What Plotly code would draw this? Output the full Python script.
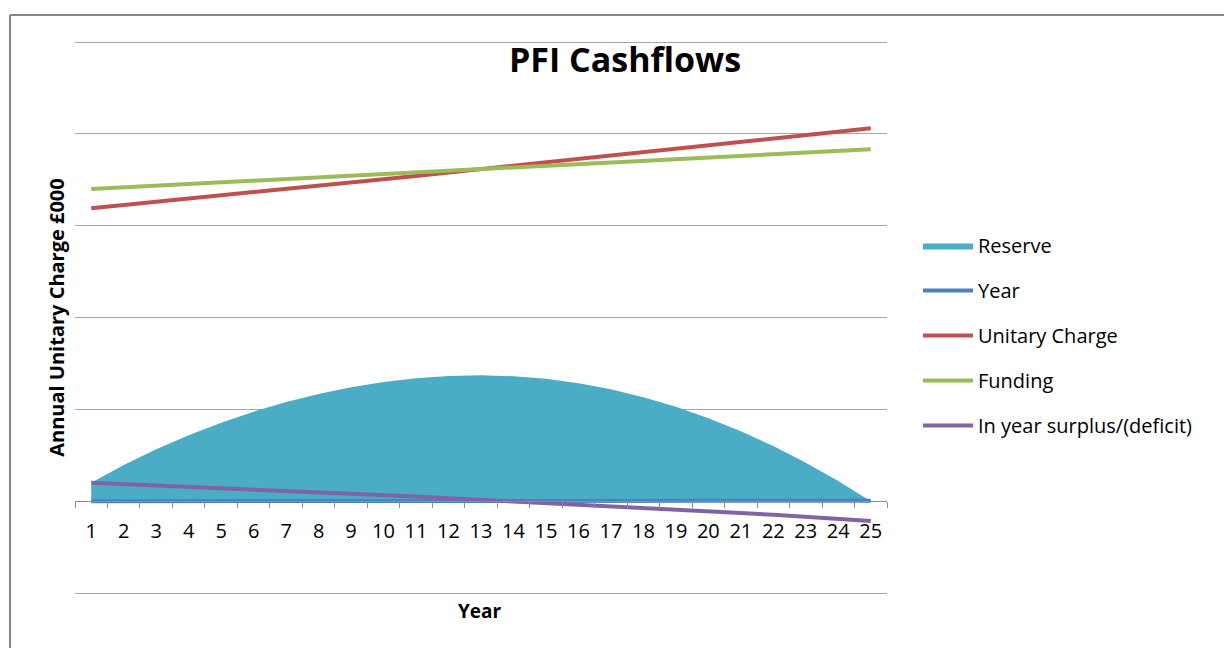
import plotly.graph_objects as go

years = list(range(1, 26))
reserve = [1000, 1975, 2820, 3585, 4270, 4875, 5400, 5840, 6205, 6490, 6690, 6810, 6850,
           6800, 6660, 6420, 6090, 5660, 5140, 4520, 3805, 3000, 2095, 1095, 0]
year_series = years
unitary_charge = [15950, 16120, 16295, 16470, 16645, 16820, 16995, 17170, 17350, 17530,
                  17710, 17895, 18080, 18265, 18450, 18635, 18820, 19005, 19190, 19375,
                  19560, 19745, 19930, 20115, 20300]
funding = [17000, 17090, 17180, 17270, 17360, 17450, 17540, 17630, 17720, 17810, 17900,
           17990, 18080, 18170, 18260, 18350, 18440, 18530, 18620, 18710, 18800, 18890,
           18980, 19070, 19160]
surplus = [1000, 930, 860, 790, 715, 640, 565, 490, 410, 330, 250, 165, 80, -5, -90,
           -180, -270, -360, -455, -550, -645, -745, -850, -960, -1080]

FONT = "Open Sans"
W, H = 1224, 648
# target pixel positions of the top (25000) and bottom (-5000) gridlines
GT, GB = 42, 593
YMIN, YMAX = -5000, 25000
# plot area is 2px larger on each side so that edge gridlines are drawn
L, R, T, B = 75, 887, GT - 2, GB + 2
PW, PH = R - L, B - T
upp = (YMAX - YMIN) / (GB - GT)          # data units per pixel
RMIN, RMAX = YMIN - 2 * upp, YMAX + 2 * upp


def px(x):
    return (x - L) / PW


def py(y):
    return (B - y) / PH


fig = go.Figure()
fig.add_trace(go.Scatter(x=years, y=reserve, name="Reserve", mode="lines",
                         fill="tozeroy", fillcolor="#4BACC6",
                         line=dict(color="#4BACC6", width=0), legendgroup="a"))
fig.add_trace(go.Scatter(x=years, y=year_series, name="Year", mode="lines",
                         line=dict(color="#4F81BD", width=4), legendgroup="b"))
fig.add_trace(go.Scatter(x=years, y=unitary_charge, name="Unitary Charge", mode="lines",
                         line=dict(color="#C0504D", width=4), legendgroup="c"))
fig.add_trace(go.Scatter(x=years, y=funding, name="Funding", mode="lines",
                         line=dict(color="#9BBB59", width=4), legendgroup="d"))
fig.add_trace(go.Scatter(x=years, y=surplus, name="In year surplus/(deficit)", mode="lines",
                         line=dict(color="#8064A2", width=4), legendgroup="e"))

fig.update_layout(
    width=W, height=H,
    margin=dict(l=L, r=W - R, t=T, b=H - B, autoexpand=False),
    paper_bgcolor="white", plot_bgcolor="white",
    font=dict(family=FONT, color="black", size=20),
    showlegend=True,
    legend=dict(x=px(918), y=py(226), xanchor="left", yanchor="top",
                traceorder="grouped", tracegroupgap=16,
                font=dict(family=FONT, size=20, color="black"),
                bgcolor="rgba(0,0,0,0)", itemwidth=50),
    xaxis=dict(type="category", range=[-0.5, 24.5], tickson="boundaries",
               ticks="outside", ticklen=6, ticklabelstandoff=12,
               tickcolor="#8C8C8C", showline=True, linecolor="#8C8C8C", linewidth=1,
               showgrid=False, zeroline=False, anchor="free",
               position=(0 - RMIN) / (RMAX - RMIN),
               tickfont=dict(family=FONT, size=20, color="black")),
    yaxis=dict(range=[RMIN, RMAX], dtick=5000, tick0=0, showticklabels=False,
               showgrid=True, gridcolor="#A6A6A6", gridwidth=1, zeroline=False,
               showline=False, ticks="",
               title=dict(text="<b>Annual Unitary Charge £000</b>", standoff=4,
                          font=dict(family=FONT, size=20, color="black"))),
    annotations=[
        dict(text="<b>PFI Cashflows</b>", x=px(625), y=py(59), xref="paper", yref="paper",
             xanchor="center", yanchor="middle", showarrow=False,
             font=dict(family=FONT, size=34, color="black")),
        dict(text="<b>Year</b>", x=px(480), y=py(611), xref="paper", yref="paper",
             xanchor="center", yanchor="middle", showarrow=False,
             font=dict(family=FONT, size=19, color="black")),
    ],
    shapes=[
        dict(type="line", xref="paper", yref="paper", x0=px(10), x1=px(1240),
             y0=py(15), y1=py(15), line=dict(color="#868686", width=2)),
        dict(type="line", xref="paper", yref="paper", x0=px(10), x1=px(10),
             y0=py(15), y1=py(700), line=dict(color="#868686", width=2)),
    ],
)

fig.write_html("out.html", config={"displayModeBar": False},
               post_script="document.body.style.margin='0';")
